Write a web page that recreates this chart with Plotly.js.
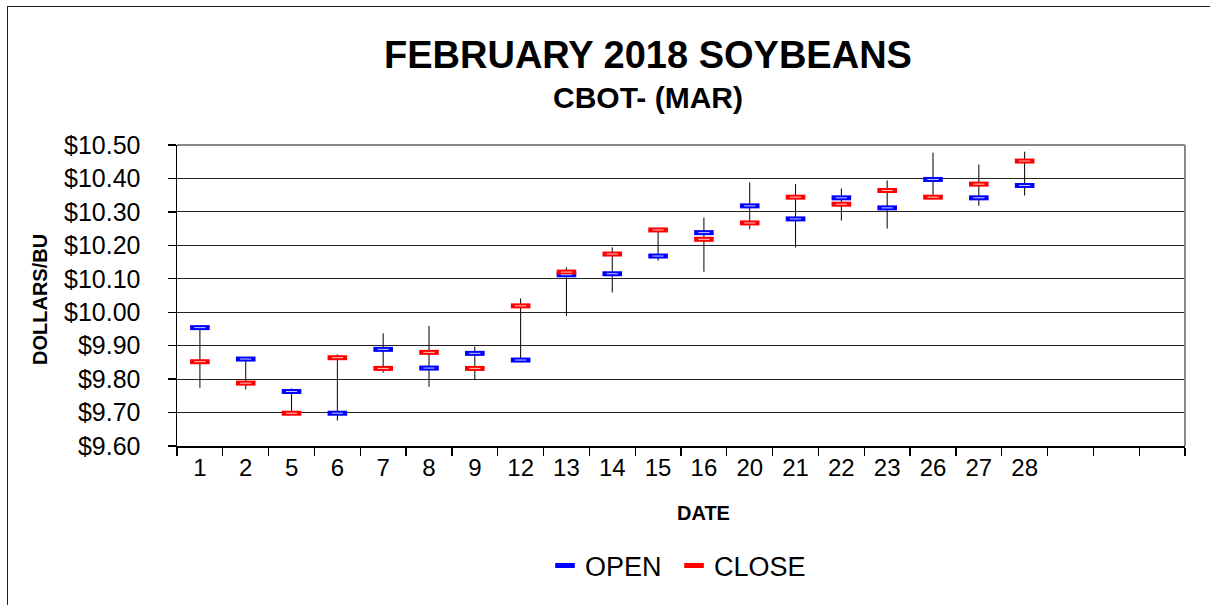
<!DOCTYPE html>
<html>
<head>
<meta charset="utf-8">
<script src="https://cdn.plot.ly/plotly-3.0.1.min.js"></script>
<style>
  html, body { margin: 0; padding: 0; background: #fff; overflow: hidden; }
  #chart { width: 1210px; height: 605px; }
  #frame { position: absolute; left: 7px; top: 6px; width: 1300px; height: 700px;
           border-left: 1.5px solid #222; border-top: 1.5px solid #222; pointer-events: none; }
</style>
</head>
<body>
<div id="chart"></div>
<div id="frame"></div>
<script>
// ---- data ----
const days   = ['1','2','5','6','7','8','9','12','13','14','15','16','20','21','22','23','26','27','28'];
const openP  = [9.954, 9.860, 9.763, 9.698, 9.889, 9.833, 9.877, 9.857, 10.112, 10.115, 10.168, 10.238, 10.318, 10.279, 10.342, 10.312, 10.397, 10.342, 10.379];
const closeP = [9.852, 9.788, 9.698, 9.864, 9.832, 9.880, 9.832, 10.019, 10.120, 10.174, 10.246, 10.218, 10.267, 10.344, 10.323, 10.364, 10.344, 10.383, 10.452];
const highP  = [9.954, 9.860, 9.772, 9.874, 9.937, 9.959, 9.897, 10.041, 10.134, 10.194, 10.246, 10.283, 10.388, 10.383, 10.370, 10.394, 10.477, 10.442, 10.480];
const lowP   = [9.774, 9.769, 9.698, 9.676, 9.819, 9.777, 9.797, 9.857, 9.989, 10.059, 10.154, 10.121, 10.248, 10.193, 10.274, 10.250, 10.344, 10.318, 10.349];
const yTicks = [9.6, 9.7, 9.8, 9.9, 10.0, 10.1, 10.2, 10.3, 10.4, 10.5];
const yTickText = ['$9.60','$9.70','$9.80','$9.90','$10.00','$10.10','$10.20','$10.30','$10.40','$10.50'];
const seriesNames = ['OPEN\u00a0', 'CLOSE'];
const totalSlots = 22; // 19 trading days + 3 empty slots at the right

const idx = days.map((d, i) => i);
const xRange = [-0.5, totalSlots - 0.5];
const FONT = 'Liberation Sans, Arial, sans-serif';

const traces = [
  { // high-low wicks
    type: 'scatter', mode: 'markers', x: idx, y: lowP,
    marker: { size: 1, color: 'rgba(0,0,0,0)' },
    error_y: { type: 'data', symmetric: false,
               array: highP.map((h, i) => h - lowP[i]),
               arrayminus: lowP.map(() => 0),
               width: 0, thickness: 1, color: '#000' },
    showlegend: false, hoverinfo: 'skip'
  },
  {
    type: 'scatter', mode: 'markers', name: seriesNames[0], x: idx, y: openP,
    marker: { symbol: 'line-ew', size: 14, line: { width: 5, color: '#0000ff' } }
  },
  {
    type: 'scatter', mode: 'markers', name: seriesNames[1], x: idx, y: closeP,
    marker: { symbol: 'line-ew', size: 14, line: { width: 5, color: '#ff0000' } }
  },
  { // inner highlight of the open dashes
    type: 'scatter', mode: 'markers', x: idx, y: openP, showlegend: false, hoverinfo: 'skip',
    marker: { symbol: 'line-ew', size: 8, line: { width: 1, color: '#c8c8ff' } }
  },
  { // inner highlight of the close dashes
    type: 'scatter', mode: 'markers', x: idx, y: closeP, showlegend: false, hoverinfo: 'skip',
    marker: { symbol: 'line-ew', size: 8, line: { width: 1, color: '#ffc8c8' } }
  }
];

const W = 1210, H = 605;
const M = { l: 177, r: 25, t: 145, b: 159 };
const pw = W - M.l - M.r, ph = H - M.t - M.b;
const px = v => (v - M.l) / pw;
const py = v => (H - M.b - v) / ph;

const layout = {
  width: W, height: H,
  margin: M,
  paper_bgcolor: '#fff', plot_bgcolor: '#fff',
  font: { family: FONT, color: '#000' },
  showlegend: true,
  legend: { orientation: 'h', x: px(545), xanchor: 'left', y: py(566), yanchor: 'middle',
            font: { family: FONT, size: 27, color: '#000' }, itemwidth: 30,
            bgcolor: 'rgba(0,0,0,0)' },
  xaxis: {
    range: xRange, tickmode: 'array', tickvals: idx, ticktext: days,
    ticks: '', showgrid: false, zeroline: false,
    showline: true, linecolor: '#000', linewidth: 1.5,
    tickfont: { family: FONT, size: 24, color: '#000' },
    minor: { tickmode: 'linear', tick0: -0.5, dtick: 1, ticks: 'outside', ticklen: 8, tickcolor: '#000', tickwidth: 1.3, showgrid: false }
  },
  xaxis2: {
    overlaying: 'x', anchor: 'y', side: 'bottom', range: xRange,
    tickmode: 'linear', tick0: -0.5, dtick: 1, ticks: 'inside', ticklen: 8, tickcolor: '#000', tickwidth: 1.3,
    showticklabels: false, showgrid: false, zeroline: false, showline: false
  },
  yaxis: {
    range: [9.6, 10.5], tickmode: 'array', tickvals: yTicks, ticktext: yTickText,
    ticks: 'outside', ticklen: 8, tickcolor: '#000', tickwidth: 1.3,
    ticklabelstandoff: 22,
    showgrid: true, gridcolor: '#222', gridwidth: 1, zeroline: false,
    showline: true, linecolor: '#000', linewidth: 1.5,
    tickfont: { family: FONT, size: 25, color: '#000' }
  },
  shapes: [
    { type: 'line', xref: 'paper', yref: 'paper', x0: 0, x1: 1, y0: 1, y1: 1, line: { color: '#888', width: 2 }, layer: 'above' },
    { type: 'line', xref: 'paper', yref: 'paper', x0: 1, x1: 1, y0: 0, y1: 1, line: { color: '#888', width: 2 }, layer: 'above' }
  ],
  annotations: [
    { text: '<b>FEBRUARY 2018 SOYBEANS</b>', xref: 'paper', yref: 'paper', x: px(648), y: py(55),
      xanchor: 'center', yanchor: 'middle', showarrow: false, font: { family: FONT, size: 38, color: '#000' } },
    { text: '<b>CBOT- (MAR)</b>', xref: 'paper', yref: 'paper', x: px(648), y: py(97),
      xanchor: 'center', yanchor: 'middle', showarrow: false, font: { family: FONT, size: 30, color: '#000' } },
    { text: '<b>DATE</b>', xref: 'paper', yref: 'paper', x: px(703), y: py(513),
      xanchor: 'center', yanchor: 'middle', showarrow: false, font: { family: FONT, size: 20, color: '#000' } },
    { text: '<b>DOLLARS/BU</b>', xref: 'paper', yref: 'paper', x: px(40), y: py(300), textangle: -90,
      xanchor: 'center', yanchor: 'middle', showarrow: false, font: { family: FONT, size: 20, color: '#000' } }
  ]
};

Plotly.newPlot('chart', traces, layout, { staticPlot: true, displayModeBar: false });
</script>
</body>
</html>
